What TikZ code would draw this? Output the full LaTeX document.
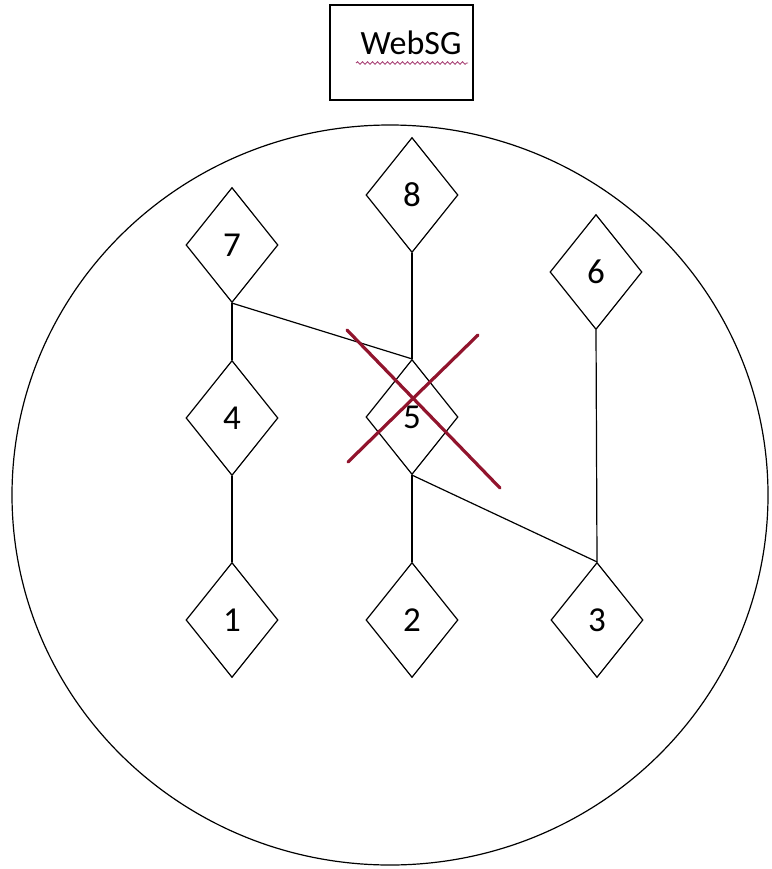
\documentclass[tikz,border=0pt]{standalone}
\usepackage{fontspec}
\setmainfont{Carlito}
\usetikzlibrary{shapes.geometric,decorations.pathmorphing}
\definecolor{xred}{RGB}{145,20,45}
\definecolor{squig}{RGB}{170,70,120}
\tikzset{
  dnode/.style={diamond, draw, line width=1.2pt, inner sep=0pt, minimum width=92pt, minimum height=115pt, font=\fontsize{35}{40}\selectfont},
  link/.style={line width=1.2pt},
  cross/.style={line width=3.2pt, xred, line cap=round},
  titlebox/.style={draw, line width=1.2pt, minimum width=143pt, minimum height=95pt}
}
\begin{document}
\begin{tikzpicture}[x=1pt,y=-1pt]
\useasboundingbox (0,0) rectangle (771,869);
\node[titlebox] (title) at (401.5,52.5) {};
\node[font=\fontsize{34}{40}\selectfont, inner sep=0pt] (tt) at (411,43) {WebSG};
\coordinate (sqa) at (356,63);
\coordinate (sqb) at (468,63);
\draw[squig, line width=0.9pt, decorate, decoration={snake, amplitude=1.3pt, segment length=5pt}] (sqa) -- (sqb);
\node[draw, ellipse, line width=1.2pt, minimum width=756pt, minimum height=740pt, inner sep=0pt] (web) at (390,495) {};
\node[dnode] (n1) at (232,620) {1};
\node[dnode] (n2) at (412,620) {2};
\node[dnode] (n3) at (597,620) {3};
\node[dnode] (n4) at (232,418) {4};
\node[dnode] (n5) at (412,417) {5};
\node[dnode] (n6) at (596,272) {6};
\node[dnode] (n7) at (232,245) {7};
\node[dnode] (n8) at (412,195) {8};
\draw[link] (n7.south) -- (n4.north);
\draw[link] (n4.south) -- (n1.north);
\draw[link] (n8.south) -- (n5.north);
\draw[link] (n7.south) -- (n5.north);
\draw[link] (n5.south) -- (n2.north);
\draw[link] (n5.south) -- (n3.north);
\draw[link] (n6.south) -- (n3.north);
\coordinate (xa) at (347,330);
\coordinate (xb) at (500,488);
\coordinate (xc) at (478,335);
\coordinate (xd) at (348,462);
\draw[cross] (xa) -- (xb);
\draw[cross] (xc) -- (xd);
\end{tikzpicture}
\end{document}
